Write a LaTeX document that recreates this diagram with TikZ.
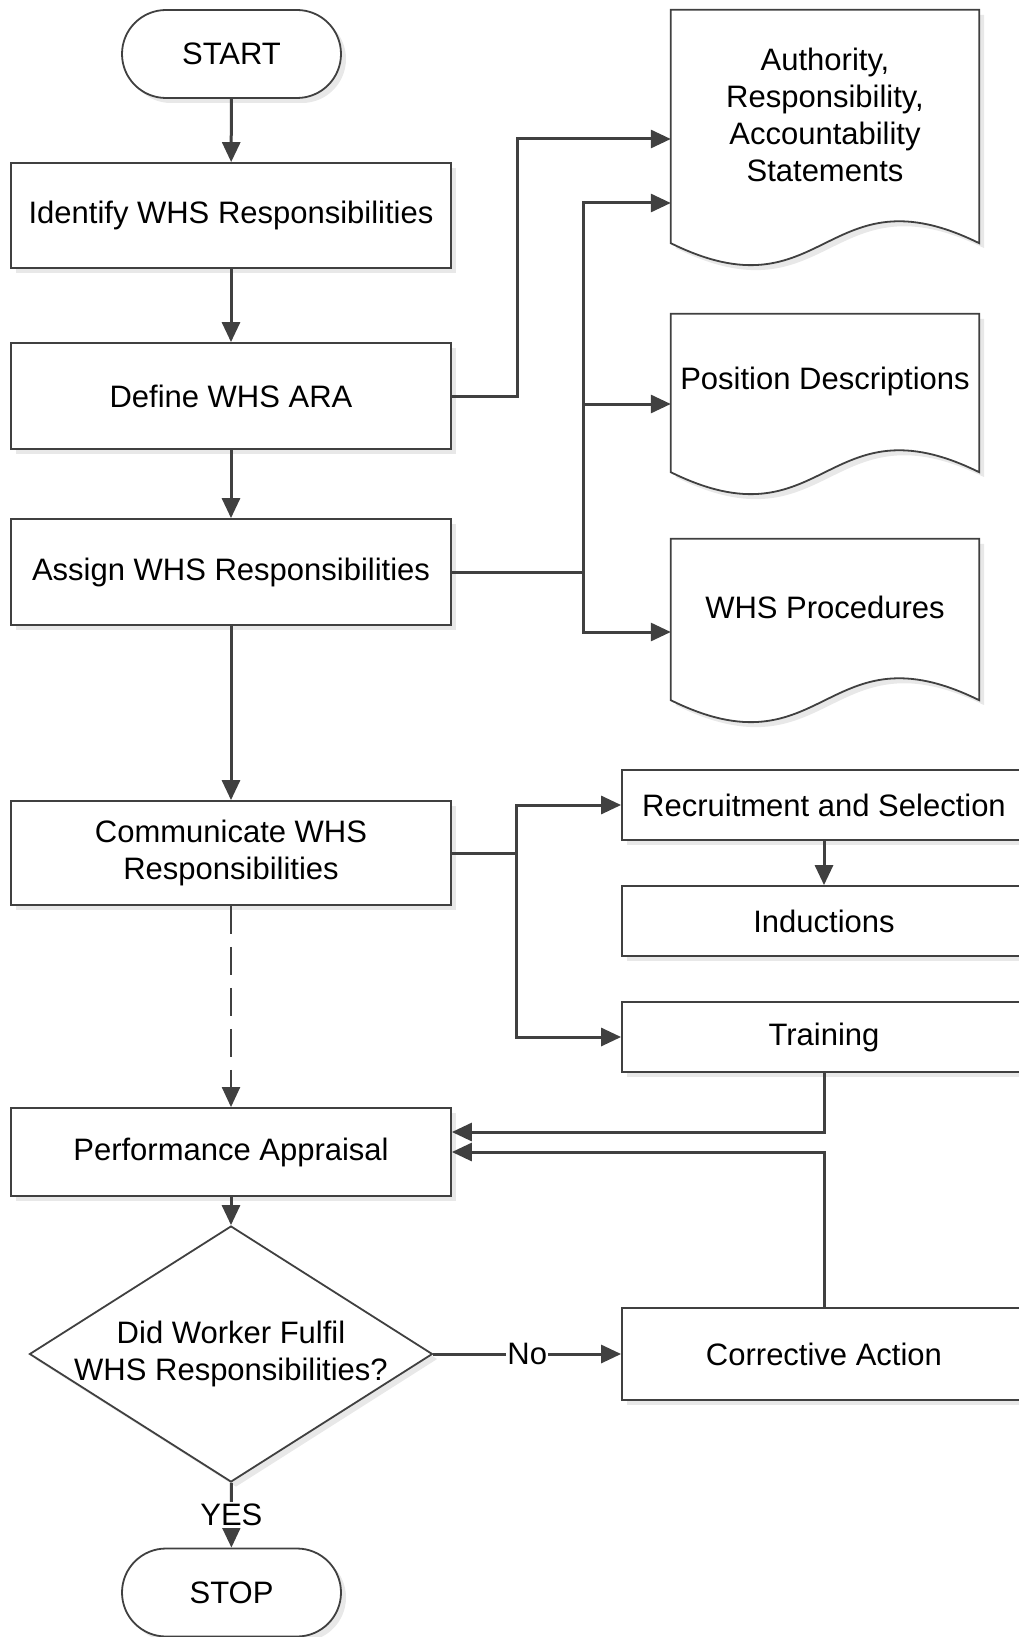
\documentclass[tikz,border=0pt]{standalone}
\usepackage{fontspec}
\setmainfont{Liberation Sans}
\usetikzlibrary{arrows.meta,shapes.geometric,shadows,calc,backgrounds}
\definecolor{ln}{HTML}{404040}
\definecolor{shd}{HTML}{E8E8E8}
\begin{document}
\begin{tikzpicture}[x=1pt,y=-1pt,
  every node/.style={font=\fontsize{31}{37}\selectfont, text=black},
  shadowed/.style={drop shadow={shadow xshift=5pt, shadow yshift=-5pt, fill=shd, opacity=1}},
  box/.style={rectangle, draw=ln, line width=1.8pt, fill=white, shadowed, inner sep=2pt, align=center},
  term/.style={box, rounded corners=44pt, minimum width=219pt, minimum height=88pt},
  proc/.style={box, minimum width=440pt},
  rbox/.style={box, minimum width=404pt},
  decision/.style={diamond, draw=ln, line width=1.8pt, fill=white, shadowed, aspect=1.574,
    minimum width=403pt, minimum height=256pt, inner sep=-12pt, align=center},
  docnode/.style={rectangle, draw=none, minimum width=308pt, inner sep=0pt, align=center},
  docline/.style={draw=ln, line width=1.8pt, fill=white, shadowed},
  line/.style={draw=ln, line width=3pt},
  arr/.style={line, -{Triangle[length=20pt,width=18pt]}},
  lbl/.style={fill=white, inner sep=2pt}
]
\useasboundingbox (0,0) rectangle (1019,1637);

% left column
\node[term] (start) at (231.5,54) {START};
\node[proc, minimum height=105pt] (ident) at (231,215.5) {Identify WHS Responsibilities};
\node[proc, minimum height=106pt] (define) at (231,396) {Define WHS ARA};
\node[proc, minimum height=106pt] (assign) at (231,572) {Assign WHS Responsibilities};
\node[proc, minimum height=104pt] (comm) at (231,853) {Communicate WHS\\Responsibilities};
\node[proc, minimum height=88pt] (perf) at (231,1152) {Performance Appraisal};
\node[decision] (dec) at (231,1354) {Did Worker Fulfil\\WHS Responsibilities?};
\node[term] (stop) at (231.5,1592.5) {STOP};

% documents
\node[docnode, minimum height=209pt] (d1) at (825,114.5) {Authority,\\Responsibility,\\Accountability\\Statements};
\node[docnode, minimum height=134pt] (d2) at (825,381) {Position Descriptions};
\node[docnode, minimum height=137pt] (d3) at (825,607.5) {WHS Procedures};
\begin{pgfonlayer}{background}
\foreach \d in {d1,d2,d3} {
  \draw[docline] (\d.north west) -- (\d.north east) -- ($(\d.south east)+(0,24)$)
    .. controls ($(\d.south)+(0,-52)$) and ($(\d.south)+(0,100)$) .. ($(\d.south west)+(0,24)$) -- cycle;
}
\end{pgfonlayer}

% right boxes
\node[rbox, minimum height=70pt] (rec) at (824,805) {Recruitment and Selection};
\node[rbox, minimum height=70pt] (ind) at (824,921) {Inductions};
\node[rbox, minimum height=70pt] (train) at (824,1037) {Training};
\node[rbox, minimum height=92pt] (corr) at (824,1354) {Corrective Action};

% main flow
\draw[arr] (start) -- (ident);
\draw[arr] (ident) -- (define);
\draw[arr] (define) -- (assign);
\draw[arr] (assign) -- (comm);
\draw[arr, line width=2.2pt, dash pattern=on 28pt off 13pt] (comm) -- (perf);
\draw[arr] (perf) -- (dec);
\draw[arr] (dec) -- node[lbl]{YES} (stop);
\draw[arr] (dec) -- node[lbl, inner sep=1pt]{No} (corr);

% define -> doc1
\coordinate (j1) at (517,139);
\draw[arr] (define.east) -| (j1) -- (j1 -| d1.west);

% assign -> docs
\coordinate (a1) at (583,203);
\coordinate (a2) at (583,404);
\coordinate (a3) at (583,632);
\draw[arr] (assign.east) -| (a1) -- (a1 -| d1.west);
\draw[arr] (assign.east -| a1) |- (a3 -| d3.west);
\draw[arr] (a2) -- (a2 -| d2.west);

% communicate -> right boxes
\coordinate (c1) at (516,805);
\draw[arr] (comm.east) -| (c1) -- (rec.west);
\draw[arr] (comm.east -| c1) |- (train.west);
\draw[arr] (rec) -- (ind);

% feedback to performance appraisal
\draw[arr] (train.south) |- ($(perf.east)+(0,-20)$);
\draw[arr] (corr.north) |- (perf.east);
\end{tikzpicture}
\end{document}
